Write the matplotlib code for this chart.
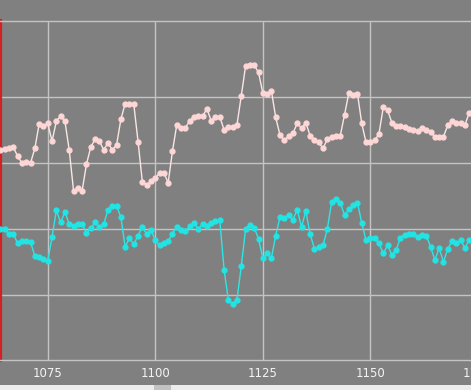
import matplotlib
matplotlib.use('Agg')
import matplotlib.pyplot as plt
from matplotlib.patches import Rectangle
import numpy as np

# sample index (one point per step)
x_start = 1064
x_end = 1173

# upper series (pink)
pink = [22.0, 22.1, 22.2, 22.4, 21.0, 20.0, 20.2, 20.0, 22.2, 25.9,
        25.6, 26.0, 23.3, 26.3, 27.1, 26.3, 21.9, 15.8, 16.2, 15.8,
        19.8, 22.4, 23.6, 23.3, 22.0, 23.0, 22.0, 22.7, 26.6, 29.0,
        29.0, 28.9, 23.2, 17.1, 16.7, 17.2, 17.7, 18.5, 18.5, 17.0,
        21.8, 25.8, 25.3, 25.3, 26.4, 27.0, 27.1, 27.1, 28.2, 26.4,
        27.0, 27.0, 25.0, 25.5, 25.5, 25.8, 30.2, 34.7, 34.8, 34.8,
        33.7, 30.6, 30.4, 30.9, 26.9, 24.2, 23.4, 24.1, 24.5, 26.0,
        25.3, 26.1, 24.1, 23.4, 23.1, 22.2, 23.6, 23.9, 24.1, 24.1,
        27.3, 30.6, 30.3, 30.5, 26.0, 23.1, 23.1, 23.4, 24.4, 28.4,
        28.0, 26.1, 25.6, 25.6, 25.5, 25.2, 25.0, 24.8, 25.3, 25.0,
        24.7, 23.9, 24.0, 24.0, 25.7, 26.3, 26.1, 26.1, 25.8, 27.6]

# lower series (cyan)
cyan = [10.0, 10.0, 9.2, 9.3, 7.8, 8.2, 8.1, 8.0, 5.9, 5.7,
        5.5, 5.2, 8.8, 12.8, 11.0, 12.6, 10.7, 10.5, 10.7, 10.8,
        9.4, 10.1, 11.0, 10.3, 10.7, 12.9, 13.5, 13.5, 11.8, 7.3,
        8.6, 7.7, 9.0, 10.3, 9.2, 9.8, 8.3, 7.5, 7.9, 8.2,
        9.3, 10.3, 9.8, 9.7, 10.4, 10.9, 10.0, 10.7, 10.4, 10.9,
        11.2, 11.3, 3.8, -0.8, -1.4, -0.7, 4.4, 10.0, 10.6, 10.2,
        8.5, 5.6, 6.3, 5.6, 9.0, 11.8, 11.7, 12.1, 11.4, 12.9,
        10.3, 12.7, 9.2, 7.0, 7.3, 7.5, 10.0, 14.1, 14.6, 14.0,
        12.1, 13.0, 13.6, 14.0, 10.9, 8.3, 8.7, 8.6, 7.8, 6.3,
        7.5, 6.1, 6.8, 8.7, 9.1, 9.3, 9.2, 8.8, 9.1, 9.0,
        7.3, 5.3, 7.1, 5.0, 7.0, 8.2, 7.8, 8.3, 7.1, 8.4]

xticks = [1075, 1100, 1125, 1150]
xtick_cut = 1175  # label partly off the right edge
yticks = [0, 10, 20, 30]

x = np.arange(x_start, x_end + 1)

bg = '#808080'
gridc = '#c4c4c4'
labc = '#f4f4f4'

fig = plt.figure(figsize=(4.71, 3.90), dpi=100, facecolor=bg)
ax = fig.add_axes([0, 30 / 390, 1, 339 / 390])
ax.set_facecolor(bg)

ax.plot(x, pink, color='#fbe6e6', lw=1, marker='o', ms=3.5,
        mfc='#ffd6d6', mec='#ffd6d6', zorder=3)
ax.plot(x, cyan, color='#2ee6e6', lw=1, marker='o', ms=3.5,
        mfc='#22e4e4', mec='#22e4e4', zorder=3)

ax.set_xticks(xticks)
ax.set_yticks(yticks)
ax.set_xlim(1063.9, 1173.4)
ax.set_ylim(-9.85, 41.5)
ax.grid(True, color=gridc, lw=1)
ax.set_axisbelow(True)
ax.tick_params(axis='x', length=0, pad=5, labelsize=8.5, labelcolor=labc)
ax.tick_params(axis='y', length=0, labelleft=False)

# tick label that sits past the right edge
ax.annotate(str(xtick_cut), xy=(xtick_cut, 0),
            xycoords=('data', 'axes fraction'), xytext=(0, -5),
            textcoords='offset points', ha='center', va='top',
            fontsize=8.5, color=labc, annotation_clip=False)

for s in ['top', 'bottom']:
    ax.spines[s].set_color(gridc)
    ax.spines[s].set_linewidth(1)
ax.spines['right'].set_visible(False)
ax.spines['left'].set_color('#d42020')
ax.spines['left'].set_linewidth(3)

# scrollbar strip at the bottom
fig.patches.append(Rectangle((0, 0), 1, 5 / 390, transform=fig.transFigure,
                             facecolor='#ececec', edgecolor='none'))
fig.patches.append(Rectangle((154 / 471, 0), 17 / 471, 5 / 390,
                             transform=fig.transFigure,
                             facecolor='#c2c2c2', edgecolor='none'))

fig.savefig('out.png', dpi=100, facecolor=bg)
